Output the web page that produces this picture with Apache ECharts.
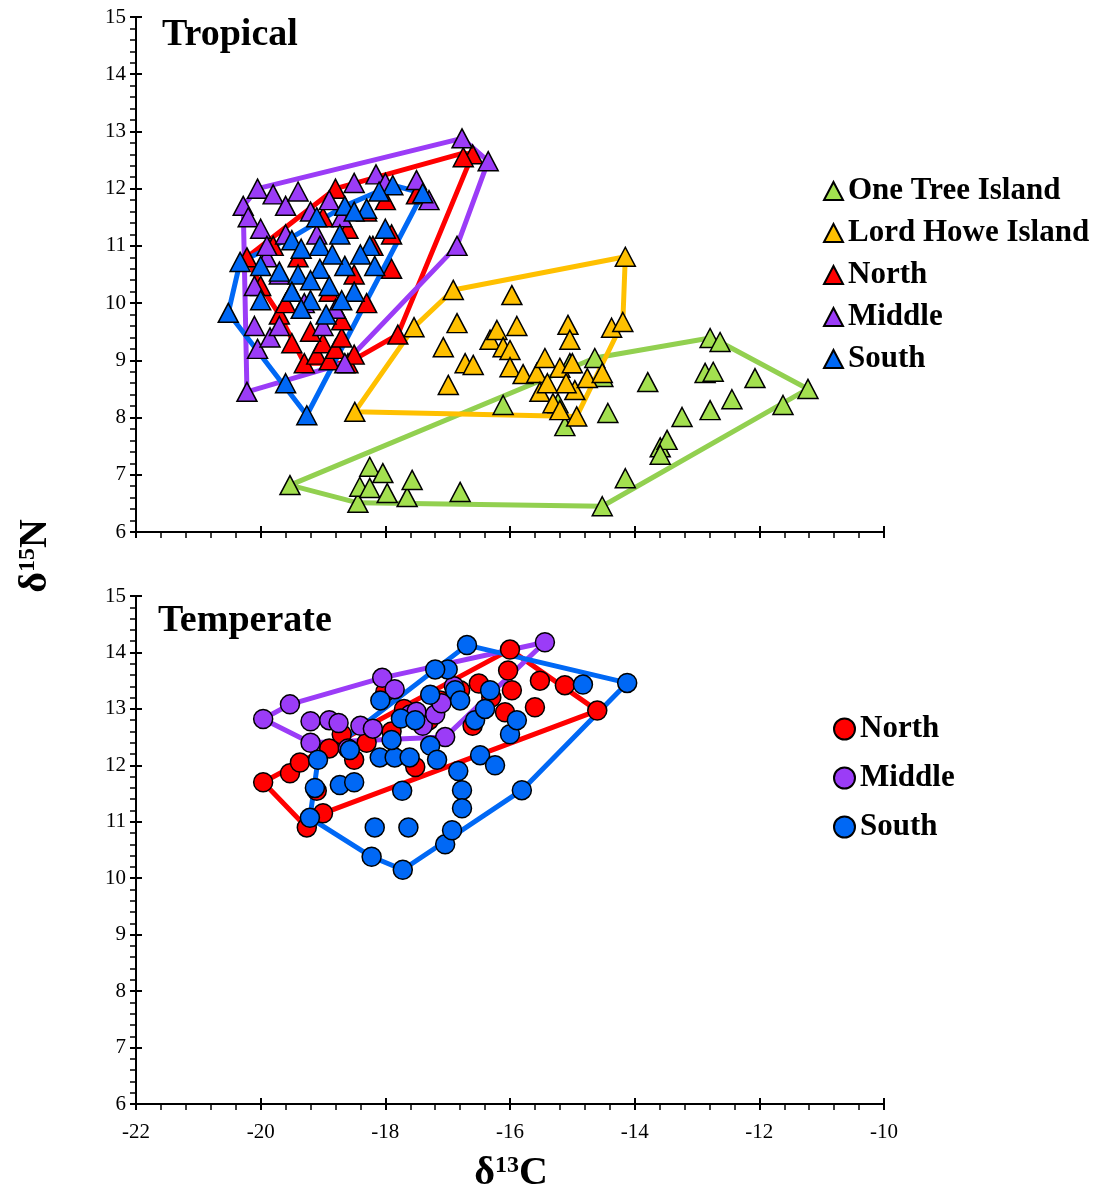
<!DOCTYPE html>
<html>
<head>
<meta charset="utf-8">
<script src="https://cdn.jsdelivr.net/npm/echarts@6/dist/echarts.min.js"></script>
<style>
    html, body {margin: 0; padding: 0; background: #fff;}
    #js_chart {width: 1100px; height: 1193px;}
</style>
</head>
<body>
<div id="js_chart"></div>
<script>
// 热带 (Tropical) 数据点 [δ13C, δ15N]
var oneTree = [[-19.53, 6.82], [-18.44, 6.51], [-18.25, 7.14], [-18.04, 7.03], [-18.41, 6.79], [-18.25, 6.77],
    [-17.97, 6.68], [-17.65, 6.61], [-17.57, 6.91], [-16.80, 6.70], [-16.11, 8.22], [-15.12, 7.85], [-15.23, 8.25],
    [-15.04, 8.95], [-14.64, 9.04], [-14.51, 8.71], [-14.43, 8.08], [-14.52, 6.45], [-14.15, 6.94], [-13.79, 8.62],
    [-13.59, 7.48], [-13.48, 7.61], [-13.59, 7.35], [-13.24, 8.01], [-12.87, 8.78], [-12.74, 8.80], [-12.79, 9.39],
    [-12.63, 9.32], [-12.79, 8.13], [-12.44, 8.32], [-12.07, 8.69], [-11.62, 8.22], [-11.22, 8.50]];
var lordHowe = [[-18.49, 8.10], [-17.54, 9.58], [-16.91, 10.23], [-17.07, 9.23], [-16.85, 9.65], [-16.72, 8.95],
    [-16.59, 8.92], [-16.99, 8.57], [-16.32, 9.36], [-16.21, 9.53], [-15.89, 9.60], [-16.11, 9.23], [-16.00, 9.18],
    [-16.00, 8.88], [-15.97, 10.14], [-15.79, 8.76], [-15.57, 8.78], [-15.44, 9.04], [-15.52, 8.45], [-15.31, 8.25],
    [-15.20, 8.87], [-15.20, 8.13], [-15.07, 9.62], [-15.04, 9.36], [-15.00, 8.95], [-14.96, 8.48], [-14.93, 8.02],
    [-14.76, 8.69], [-14.52, 8.78], [-14.37, 9.57], [-14.19, 9.67], [-14.15, 10.81], [-15.40, 8.60], [-15.10, 8.60]];
var tropNorth = [[-20.22, 10.80], [-20.00, 10.30], [-19.70, 9.80], [-19.50, 9.30], [-19.30, 8.95], [-19.10, 9.10],
    [-19.00, 9.30], [-18.90, 9.00], [-18.80, 9.20], [-18.60, 8.95], [-18.70, 9.40], [-18.50, 9.10], [-19.20, 9.50],
    [-17.80, 9.45], [-18.80, 12.00], [-18.30, 11.60], [-18.00, 11.80], [-17.90, 11.20], [-18.20, 11.00], [-18.50, 10.50],
    [-18.90, 10.20], [-19.40, 10.80], [-19.00, 11.50], [-18.60, 11.30], [-17.90, 10.60], [-18.30, 10.00], [-18.70, 9.70],
    [-16.60, 12.60], [-16.75, 12.55], [-17.50, 11.90], [-19.80, 11.00], [-19.60, 10.00]];
var tropMiddle = [[-20.22, 8.45], [-20.05, 9.20], [-19.85, 9.40], [-20.10, 9.60], [-20.28, 11.70], [-20.05, 12.00],
    [-20.20, 11.50], [-20.00, 11.30], [-19.80, 11.90], [-19.60, 11.70], [-19.40, 11.95], [-19.20, 11.60], [-18.90, 11.80],
    [-18.50, 12.10], [-18.15, 12.25], [-18.00, 12.10], [-17.50, 12.15], [-17.30, 11.80], [-16.77, 12.88], [-16.35, 12.48],
    [-16.85, 11.00], [-18.65, 8.95], [-19.90, 10.80], [-19.70, 10.50], [-19.50, 10.20], [-19.30, 10.00], [-19.00, 9.60],
    [-18.80, 9.90], [-19.60, 11.20], [-19.90, 11.00], [-19.10, 11.20], [-18.70, 11.50], [-20.10, 10.30], [-19.70, 9.60]];
var tropSouth = [[-20.52, 9.83], [-19.26, 8.04], [-19.60, 8.60], [-17.40, 11.92], [-17.88, 12.06], [-18.65, 11.70],
    [-20.33, 10.72], [-19.50, 11.10], [-19.35, 10.95], [-19.05, 11.00], [-18.73, 11.20], [-18.25, 11.00], [-20.00, 10.65],
    [-19.70, 10.55], [-19.40, 10.50], [-19.05, 10.60], [-18.65, 10.65], [-18.17, 10.65], [-19.50, 10.20], [-19.20, 10.05],
    [-18.90, 10.30], [-18.50, 10.20], [-19.35, 9.90], [-18.95, 9.80], [-18.70, 10.05], [-20.00, 10.05], [-18.00, 11.30],
    [-18.30, 11.65], [-18.10, 11.95], [-19.10, 11.50], [-18.50, 11.60], [-19.20, 10.40], [-18.85, 10.85], [-18.40, 10.85]];

// 凸包顶点
var oneTreeHull = [[-19.53, 6.82], [-18.44, 6.51], [-14.52, 6.45], [-11.22, 8.50], [-12.63, 9.32], [-12.79, 9.39], [-14.64, 9.04], [-19.53, 6.82]];
var lordHoweHull = [[-18.49, 8.10], [-14.93, 8.02], [-14.19, 9.67], [-14.15, 10.81], [-16.91, 10.23], [-17.54, 9.58], [-18.49, 8.10]];
var tropNorthHull = [[-20.22, 10.80], [-20.00, 10.30], [-19.70, 9.80], [-19.30, 8.95], [-18.60, 8.95], [-17.80, 9.45], [-16.60, 12.60], [-16.75, 12.62], [-18.80, 12.00], [-20.22, 10.80]];
var tropMiddleHull = [[-20.22, 8.45], [-20.28, 11.70], [-20.05, 12.00], [-16.77, 12.88], [-16.35, 12.48], [-16.85, 11.00], [-18.65, 8.95], [-20.22, 8.45]];
var tropSouthHull = [[-20.52, 9.83], [-19.26, 8.04], [-17.40, 11.92], [-17.88, 12.06], [-18.65, 11.70], [-19.50, 11.15], [-20.33, 10.72], [-20.52, 9.83]];

// 温带 (Temperate) 数据点
var tempNorth = [[-19.96, 11.70], [-19.53, 11.86], [-19.37, 12.05], [-19.26, 10.90], [-19.00, 11.15], [-19.10, 11.55],
    [-18.90, 12.30], [-18.70, 12.55], [-18.50, 12.10], [-18.30, 12.40], [-17.90, 12.60], [-17.52, 11.97], [-17.30, 12.80],
    [-17.12, 13.15], [-16.80, 13.33], [-16.50, 13.45], [-16.30, 13.20], [-16.00, 14.05], [-16.03, 13.68], [-15.97, 13.33],
    [-16.08, 12.94], [-15.60, 13.03], [-15.52, 13.50], [-15.12, 13.42], [-14.60, 12.97], [-18.00, 13.30], [-17.70, 13.00],
    [-16.60, 12.70]];
var tempMiddle = [[-19.96, 12.82], [-19.53, 13.08], [-19.20, 12.78], [-18.90, 12.80], [-18.75, 12.75], [-18.40, 12.70],
    [-18.20, 12.65], [-18.05, 13.55], [-17.85, 13.35], [-17.60, 12.90], [-17.40, 12.70], [-17.50, 12.95], [-17.04, 12.50],
    [-15.44, 14.18], [-16.90, 13.40], [-17.20, 12.90], [-19.20, 12.40], [-18.60, 12.30], [-17.10, 13.10]];
var tempSouth = [[-19.21, 11.07], [-19.08, 12.10], [-19.13, 11.60], [-18.73, 11.65], [-18.50, 11.70], [-18.57, 12.27],
    [-18.17, 10.90], [-18.22, 10.38], [-17.72, 10.15], [-17.63, 10.90], [-17.73, 11.55], [-18.09, 12.14], [-17.85, 12.14],
    [-17.61, 12.14], [-17.90, 12.45], [-18.08, 13.15], [-17.75, 12.83], [-17.52, 12.80], [-17.28, 12.35], [-17.17, 12.10],
    [-17.04, 10.60], [-16.93, 10.85], [-16.77, 11.56], [-16.77, 11.24], [-16.83, 11.90], [-16.48, 12.18], [-16.24, 12.00],
    [-16.88, 13.33], [-16.80, 13.15], [-16.69, 14.13], [-17.00, 13.70], [-16.56, 12.80], [-16.40, 13.00], [-16.32, 13.33],
    [-16.00, 12.55], [-15.89, 12.80], [-14.83, 13.43], [-14.12, 13.46], [-15.81, 11.56], [-17.28, 13.25], [-17.20, 13.70]];

var tempNorthHull = [[-19.96, 11.70], [-16.00, 14.05], [-14.60, 12.97], [-19.00, 11.15], [-19.26, 10.90], [-19.96, 11.70]];
var tempMiddleHull = [[-19.96, 12.82], [-19.53, 13.08], [-18.05, 13.55], [-15.44, 14.18], [-17.04, 12.50], [-19.20, 12.40], [-19.96, 12.82]];
var tempSouthHull = [[-19.21, 11.07], [-19.08, 12.10], [-16.69, 14.13], [-14.12, 13.46], [-15.81, 11.56], [-17.72, 10.15], [-18.22, 10.38], [-19.21, 11.07]];

var xTicks = {min: -22, max: -10, interval: 2};
var yTicks = {min: 6, max: 15, interval: 1};

var colors = {
    green: '#a3e04f',
    greenLine: '#92d050',
    yellow: '#ffc000',
    red: '#ff0000',
    purple: '#9b3cf7',
    blue: '#0068f5'
};
var serif = 'Liberation Serif';

// inside=true 的副坐标轴只画向内的主刻度，组成“十字”刻度
function makeX(gridIndex, showLabel, inside) {
    return {
        type: 'value', gridIndex: gridIndex, position: 'bottom',
        min: xTicks.min, max: xTicks.max, interval: xTicks.interval,
        axisLine: {show: !inside, onZero: false, lineStyle: {color: '#000', width: 2}},
        axisTick: {show: true, inside: inside, length: 6, lineStyle: {color: '#000', width: 2}},
        minorTick: {show: !inside, splitNumber: 5, length: 6, lineStyle: {color: '#000', width: 1.5}},
        axisLabel: {show: showLabel && !inside, color: '#000', fontFamily: serif, fontSize: 21, margin: 18},
        splitLine: {show: false}
    };
}
function makeY(gridIndex, inside) {
    return {
        type: 'value', gridIndex: gridIndex, position: 'left',
        min: yTicks.min, max: yTicks.max, interval: yTicks.interval,
        axisLine: {show: !inside, onZero: false, lineStyle: {color: '#000', width: 2}},
        axisTick: {show: true, inside: inside, length: 6, lineStyle: {color: '#000', width: 2}},
        minorTick: {show: !inside, splitNumber: 5, length: 6, lineStyle: {color: '#000', width: 1.5}},
        axisLabel: {show: !inside, color: '#000', fontFamily: serif, fontSize: 21, margin: 10},
        splitLine: {show: false}
    };
}

function pts(name, data, color, symbol, xi, yi) {
    return {
        name: name, type: 'scatter', xAxisIndex: xi, yAxisIndex: yi,
        symbol: symbol, symbolSize: symbol === 'circle' ? 19 : [20, 19],
        itemStyle: {color: color, borderColor: '#000', borderWidth: 1.5, opacity: 1},
        data: data, z: 3
    };
}
function hull(data, color, xi, yi) {
    return {
        type: 'line', xAxisIndex: xi, yAxisIndex: yi, data: data,
        symbol: 'none', silent: true,
        lineStyle: {color: color, width: 5}, z: 3
    };
}

var chart = echarts.init(document.getElementById('js_chart'), null, {renderer: 'canvas'});
var titleStyle = {color: '#000', fontFamily: serif, fontSize: 38, fontWeight: 'bold'};
var legendText = {color: '#000', fontFamily: serif, fontSize: 31, fontWeight: 'bold', lineHeight: 32};
var axisNameRich = {
    a: {fontFamily: serif, fontSize: 40, fontWeight: 'bold', fill: '#000', lineHeight: 40, verticalAlign: 'bottom'},
    b: {fontFamily: serif, fontSize: 24, fontWeight: 'bold', fill: '#000', lineHeight: 24, verticalAlign: 'top'}
};

chart.setOption({
    backgroundColor: '#fff',
    animation: false,
    title: [
        {text: 'Tropical', left: 157, top: 11, textStyle: titleStyle},
        {text: 'Temperate', left: 153, top: 597, textStyle: titleStyle}
    ],
    legend: [
        {
            data: ['One Tree Island', 'Lord Howe Island', 'North', 'Middle', 'South'],
            orient: 'vertical', left: 818, top: 170, itemGap: 10, itemWidth: 19, itemHeight: 18,
            textStyle: legendText, selectedMode: false
        },
        {
            data: ['North ', 'Middle ', 'South '],
            orient: 'vertical', left: 828, top: 708, itemGap: 17, itemWidth: 21, itemHeight: 21,
            textStyle: legendText, selectedMode: false
        }
    ],
    grid: [
        {left: 136, top: 17, width: 748, height: 515},
        {left: 136, top: 596, width: 748, height: 508}
    ],
    xAxis: [makeX(0, false, false), makeX(0, false, true), makeX(1, true, false), makeX(1, true, true)],
    yAxis: [makeY(0, false), makeY(0, true), makeY(1, false), makeY(1, true)],
    graphic: [
        {
            type: 'text', x: 36, y: 556, rotation: Math.PI / 2,
            style: {text: '{a|δ}{b|15}{a|N}', align: 'center', verticalAlign: 'middle', rich: axisNameRich}
        },
        {
            type: 'text', x: 511, y: 1174,
            style: {text: '{a|δ}{b|13}{a|C}', align: 'center', verticalAlign: 'middle', rich: axisNameRich}
        }
    ],
    series: [
        pts('One Tree Island', oneTree, colors.green, 'triangle', 0, 0),
        hull(oneTreeHull, colors.greenLine, 0, 0),
        pts('Lord Howe Island', lordHowe, colors.yellow, 'triangle', 0, 0),
        hull(lordHoweHull, colors.yellow, 0, 0),
        pts('North', tropNorth, colors.red, 'triangle', 0, 0),
        hull(tropNorthHull, colors.red, 0, 0),
        pts('Middle', tropMiddle, colors.purple, 'triangle', 0, 0),
        hull(tropMiddleHull, colors.purple, 0, 0),
        pts('South', tropSouth, colors.blue, 'triangle', 0, 0),
        hull(tropSouthHull, colors.blue, 0, 0),

        pts('North ', tempNorth, colors.red, 'circle', 2, 2),
        hull(tempNorthHull, colors.red, 2, 2),
        pts('Middle ', tempMiddle, colors.purple, 'circle', 2, 2),
        hull(tempMiddleHull, colors.purple, 2, 2),
        pts('South ', tempSouth, colors.blue, 'circle', 2, 2),
        hull(tempSouthHull, colors.blue, 2, 2)
    ]
});
</script>
</body>
</html>
